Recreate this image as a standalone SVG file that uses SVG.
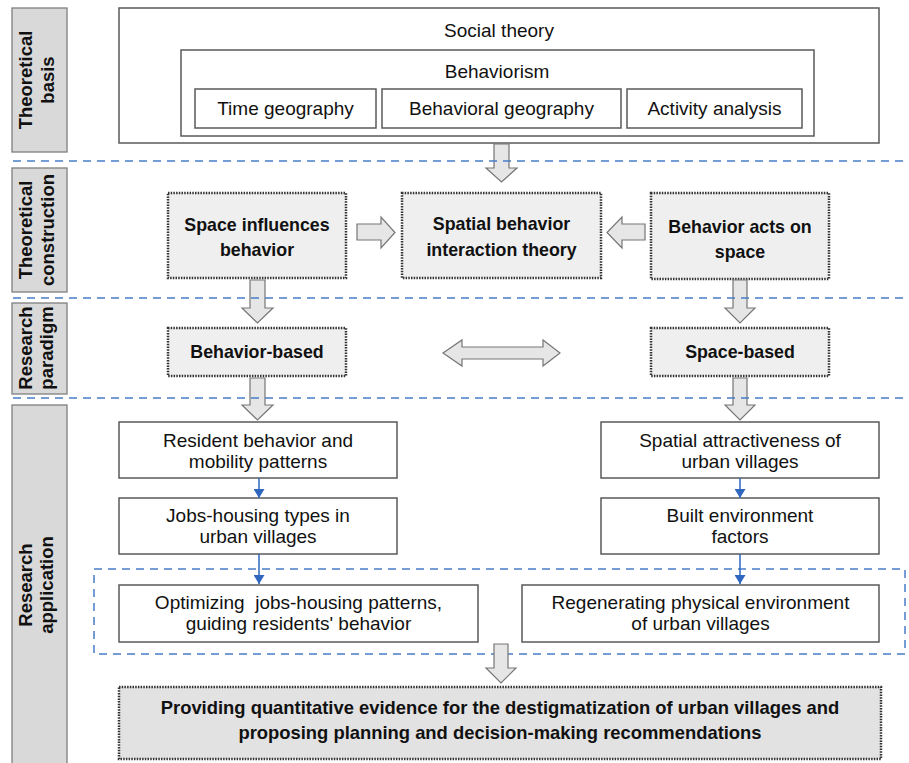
<svg xmlns="http://www.w3.org/2000/svg" width="909" height="763" viewBox="0 0 909 763">
<defs>
<marker id="bh" markerWidth="9" markerHeight="11" refX="9" refY="5.5" orient="auto" markerUnits="userSpaceOnUse" viewBox="0 0 9 11">
<path d="M0,0 L9,5.5 L0,11 Z" fill="#2e66c0"/>
</marker>
<style>
text{font-family:"Liberation Sans",Arial,sans-serif;fill:#111;}
.n{font-size:19px;text-anchor:middle;}
.b{font-size:17.8px;font-weight:bold;text-anchor:middle;}
.f{font-size:18.4px;font-weight:bold;text-anchor:middle;}
.lab{font-size:18.5px;font-weight:bold;text-anchor:middle;}
.lbox{fill:#d9d9d9;stroke:#7f7f7f;stroke-width:1.3;}
.box{fill:#fff;stroke:#5a5a5a;stroke-width:1.5;}
.dot{fill:#efefef;stroke:#333;stroke-width:2.5;stroke-dasharray:1.5 1.2;}
.dotd{fill:#e2e2e2;stroke:#333;stroke-width:2.5;stroke-dasharray:1.5 1.2;}
.arr{fill:#e6e6e6;stroke:#767676;stroke-width:1.2;stroke-linejoin:miter;}
.dash{fill:none;stroke:#4a7cc9;stroke-width:1.5;stroke-dasharray:8 6;}
.blue{stroke:#2e66c0;stroke-width:1.5;fill:none;}
</style>
</defs>
<rect width="909" height="763" fill="#fff"/>

<g id="labels">
<g id="lab-basis"><rect class="lbox" x="12" y="8" width="55" height="144"/>
<text class="lab" transform="translate(32,80) rotate(-90)">Theoretical</text>
<text class="lab" transform="translate(54,80) rotate(-90)">basis</text></g>
<g id="lab-construction"><rect class="lbox" x="12" y="168" width="55" height="124"/>
<text class="lab" transform="translate(32,230) rotate(-90)">Theoretical</text>
<text class="lab" transform="translate(54,230) rotate(-90)">construction</text></g>
<g id="lab-paradigm"><rect class="lbox" x="12" y="303" width="55" height="91"/>
<text class="lab" transform="translate(32,348) rotate(-90)">Research</text>
<text class="lab" transform="translate(53,348) rotate(-90)">paradigm</text></g>
<g id="lab-application"><rect class="lbox" x="12" y="405" width="55" height="362"/>
<text class="lab" transform="translate(32,585) rotate(-90)">Research</text>
<text class="lab" transform="translate(53,585) rotate(-90)">application</text></g>
</g>

<g id="social-theory"><rect class="box" x="119" y="8" width="760" height="135"/>
<text class="n" x="499" y="37">Social theory</text></g>
<g id="behaviorism"><rect class="box" x="181" y="50" width="633" height="86"/>
<text class="n" x="497" y="78">Behaviorism</text></g>
<g id="time-geography"><rect class="box" x="195" y="89" width="181" height="39"/>
<text class="n" x="285.5" y="115">Time geography</text></g>
<g id="behavioral-geography"><rect class="box" x="382" y="89" width="239" height="39"/>
<text class="n" x="501.5" y="115">Behavioral geography</text></g>
<g id="activity-analysis"><rect class="box" x="627" y="89" width="175" height="39"/>
<text class="n" x="714.5" y="115">Activity analysis</text></g>

<g id="space-influences"><rect class="dot" x="168" y="193" width="178" height="85"/>
<text class="b" x="257" y="231">Space influences</text>
<text class="b" x="257" y="256">behavior</text></g>
<g id="spatial-interaction"><rect class="dot" x="402" y="193" width="199" height="85"/>
<text class="b" x="501.5" y="230">Spatial behavior</text>
<text class="b" x="501.5" y="256">interaction theory</text></g>
<g id="behavior-acts"><rect class="dot" x="651" y="193" width="178" height="86"/>
<text class="b" x="740" y="233">Behavior acts on</text>
<text class="b" x="740" y="258">space</text></g>

<g id="behavior-based"><rect class="dot" x="168" y="328" width="178" height="48"/>
<text class="b" x="257" y="358">Behavior-based</text></g>
<g id="space-based"><rect class="dot" x="651" y="328" width="178" height="48"/>
<text class="b" x="740" y="358">Space-based</text></g>

<g id="resident-behavior"><rect class="box" x="119" y="422" width="278" height="56"/>
<text class="n" x="258" y="447">Resident behavior and</text>
<text class="n" x="258" y="468">mobility patterns</text></g>
<g id="spatial-attractiveness"><rect class="box" x="601" y="422" width="278" height="56"/>
<text class="n" x="740" y="447">Spatial attractiveness of</text>
<text class="n" x="740" y="468">urban villages</text></g>
<g id="jobs-housing"><rect class="box" x="119" y="498" width="278" height="56"/>
<text class="n" x="258" y="522">Jobs-housing types in</text>
<text class="n" x="258" y="543">urban villages</text></g>
<g id="built-environment"><rect class="box" x="601" y="498" width="278" height="56"/>
<text class="n" x="740" y="522">Built environment</text>
<text class="n" x="740" y="543">factors</text></g>

<g id="application-group"><rect class="dash" x="94" y="569" width="811" height="85"/></g>
<g id="optimizing"><rect class="box" x="119" y="585" width="359" height="57"/>
<text class="n" x="298.5" y="609" style="white-space:pre">Optimizing  jobs-housing patterns,</text>
<text class="n" x="298.5" y="630">guiding residents' behavior</text></g>
<g id="regenerating"><rect class="box" x="522" y="585" width="357" height="57"/>
<text class="n" x="700.5" y="609">Regenerating physical environment</text>
<text class="n" x="700.5" y="630">of urban villages</text></g>

<g id="final"><rect class="dotd" x="119" y="687" width="762" height="72"/>
<text class="f" x="500" y="714">Providing quantitative evidence for the destigmatization of urban villages and</text>
<text class="f" x="500" y="739">proposing planning and decision-making recommendations</text></g>

<g id="connectors">
<polygon class="arr" points="494,144 509,144 509,168 517,168 501.5,182 486,168 494,168"/>
<polygon class="arr" points="357,224 381,224 381,217 395,232.5 381,248 381,240 357,240"/>
<polygon class="arr" points="645,224 622,224 622,217 607,232.5 622,248 622,240 645,240"/>
<polygon class="arr" points="250,280 265,280 265,308 273,308 257.5,323 242,308 250,308"/>
<polygon class="arr" points="733,280 747,280 747,308 755,308 740,323 725,308 733,308"/>
<polygon class="arr" points="443,353 462,340 462,347 543,347 543,340 560,353 543,366 543,359 462,359 462,366"/>
<polygon class="arr" points="250,378 265,378 265,405 273,405 257.5,420 242,405 250,405"/>
<polygon class="arr" points="733,378 747,378 747,405 755,405 740,420 725,405 733,405"/>
<polygon class="arr" points="494,644 508,644 508,668 516,668 501,683 486,668 494,668"/>
<line class="blue" x1="259" y1="478" x2="259" y2="498" marker-end="url(#bh)"/>
<line class="blue" x1="740" y1="478" x2="740" y2="498" marker-end="url(#bh)"/>
<line class="blue" x1="259" y1="554" x2="259" y2="584" marker-end="url(#bh)"/>
<line class="blue" x1="740" y1="554" x2="740" y2="584" marker-end="url(#bh)"/>
</g>

<g id="separators">
<line class="dash" x1="13" y1="161" x2="909" y2="161"/>
<line class="dash" x1="13" y1="298" x2="909" y2="298"/>
<line class="dash" x1="13" y1="398" x2="909" y2="398"/>
</g>
</svg>
